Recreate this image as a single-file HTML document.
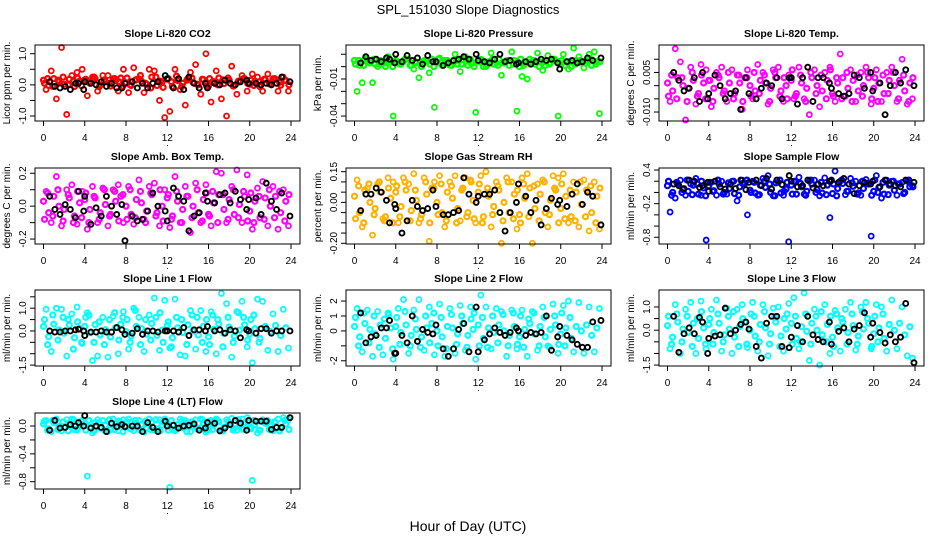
<!DOCTYPE html>
<html><head><meta charset="utf-8"><style>
body{margin:0;background:#fff}
svg{display:block;font-family:"Liberation Sans",sans-serif}
</style></head><body>
<svg id="chart" width="936" height="540" viewBox="0 0 936 540">
<text x="468" y="14" text-anchor="middle" font-size="13">SPL_151030  Slope Diagnostics</text>
<text x="468" y="531" text-anchor="middle" font-size="14">Hour of Day (UTC)</text>
</svg>
<script>
const hoursA=[0,0.5,1,1.5,2,2.5,3,3.5,4,4.5,5,5.5,6,6.5,7,7.5,8,8.5,9,9.5,10,10.5,11,11.5,12,12.5,13,13.5,14,14.5,15,15.5,16,16.5,17,17.5,18,18.5,19,19.5,20,20.5,21,21.5,22,22.5,23,23.5];
const hoursB=[0.25,0.75,1.25,1.75,2.25,2.75,3.25,3.75,4.25,4.75,5.25,5.75,6.25,6.75,7.25,7.75,8.25,8.75,9.25,9.75,10.25,10.75,11.25,11.75,12.25,12.75,13.25,13.75,14.25,14.75,15.25,15.75,16.25,16.75,17.25,17.75,18.25,18.75,19.25,19.75,20.25,20.75,21.25,21.75,22.25,22.75,23.25,23.75];
const hoursC=[0.6,1.1,1.6,2.1,2.6,3.1,3.4,3.9,4.0,4.6,5.1,5.6,6.1,6.6,7.1,7.6,7.9,8.6,9.1,9.6,10.1,10.6,11.1,11.8,12.0,12.6,13.1,13.6,14.1,14.6,15.1,15.7,15.9,16.6,17.1,17.6,18.1,18.6,19.1,19.7,19.9,20.6,21.1,21.6,22.1,22.6,23.1,23.9];
const hoursD=[0.1,0.4,0.9,1.4,1.9,2.4,2.9,3.3,3.7,4.1,4.4,4.9,5.4,5.9,6.4,6.9,7.3,7.7,8.1,8.4,8.9,9.4,9.9,10.4,10.9,11.3,11.6,12.1,12.4,12.9,13.4,13.9,14.4,14.9,15.4,15.8,16.1,16.4,16.9,17.4,17.9,18.4,18.9,19.4,19.8,20.1,20.4,20.9,21.4,21.9,22.4,22.9,23.4,23.8];

const co2Band=[0.15,-0.02,0.2,0.1,0.02,0.18,-0.05,0.12,0.16,0.05,0.2,0,0.1,-0.04,0.14,0.22,0.06,-0.02,0.17,0.12,0.02,0.25,-0.02,0.1,0.18,-0.05,0.14,0.05,0.2,0.08,0,0.17,-0.04,0.1,0.22,0.04,0.15,-0.02,0.1,0.2,0.02,0.12,-0.06,0.17,0.06,0.18,-0.01,0.14];
const co2Band2=[0.05,0.2,-0.05,0.15,0.25,0.0,0.12,0.22,-0.03,0.18,0.08,0.25,-0.06,0.16,0.05,0.2,0.1,-0.04,0.22,0.0,0.15,0.3,0.05,-0.1,0.25,0.12,-0.08,0.2,0.1,0.28,-0.05,0.15,0.22,0.02,0.18,-0.03,0.2,0.1,0.0,0.16,0.22,-0.04,0.12,0.2,0.05,0.15,-0.02,0.1,0.18,0.03,0.2,0.08,0.15,0.0];
const co2Spread=[-0.15,0.45,-0.45,1.2,-0.95,0.3,0.4,0.5,-0.35,0.25,-0.2,0.3,0.3,0.2,-0.2,0.5,-0.25,0.55,0.2,-0.25,0.5,0.45,-0.5,-1.05,-0.85,0.5,-0.15,-0.65,0.4,0.65,-0.3,1.0,-0.55,0.45,-0.45,-1.0,0.6,-0.3,0.3,-0.2,0.35,0.25,-0.2,0.35,0.2,-0.2,0.25,-0.2];
const co2Black=[0.1,-0.05,-0.1,-0.05,-0.15,0.05,0.05,-0.15,0.1,0.05,0,0.1,-0.05,0.05,-0.1,-0.1,0.05,0.1,-0.1,0.05,-0.1,0.05,0.1,0.3,0.2,-0.1,0.2,-0.15,0.25,0.05,-0.1,0.05,-0.1,0.05,0.0,0.15,0.05,0,0.1,0.15,0.05,0.05,0,0.05,0,0.05,0.25,0.1];

const presBand=[0.005,0.001,0.006,0.003,0.002,0.005,0.0,0.004,0.005,0.002,0.006,0.001,0.003,0.0,0.004,0.006,0.003,0.001,0.005,0.004,0.002,0.006,0.001,0.003,0.005,0.0,0.004,0.002,0.006,0.003,0.001,0.005,0.0,0.003,0.006,0.002,0.004,0.001,0.003,0.005,0.002,0.004,0.0,0.005,0.003,0.005,0.001,0.004];
const presBand2=[0.002,0.005,0.001,0.004,0.006,0.002,0.003,0.005,0.0,0.004,0.002,0.006,0.001,0.004,0.003,0.005,0.002,0.0,0.006,0.003,0.004,0.001,0.005,0.002,0.006,0.003,0.0,0.004,0.005,0.002,0.006,0.001,0.003,0.005,0.002,0.004,0.006,0.001,0.003,0.005,0.0,0.004,0.002,0.006,0.003,0.005,0.001,0.004,0.002,0.005,0.003,0.006,0.002,0.004];
const presSpread=[-0.02,-0.013,0.006,-0.013,0.0,0.003,0.008,-0.04,0.003,0.004,0.006,-0.002,-0.009,0.005,-0.005,-0.033,0.007,0.005,0.001,0.01,-0.004,0.008,0.006,-0.037,0.006,0.0,0.011,0.003,-0.007,0.005,0.012,-0.036,-0.008,-0.01,0.005,0.011,-0.003,0.009,0.006,-0.04,0.01,-0.002,0.015,0.008,-0.001,0.01,0.012,-0.038];
const presBlack=[0.003,0.008,0.005,0.006,0.004,0.007,0.006,0.003,0.01,0.004,0.009,0.005,0.007,0.002,0.009,0.004,0.004,0.001,0.003,0.005,0.006,0.008,0.006,0.01,0.005,0.004,0.003,0.006,0.01,0.004,0.005,0.002,0.003,0.004,0.002,0.004,0.006,0.005,0.006,0.003,-0.002,0.004,0.005,0.003,0.004,0.007,0.005,0.007];

const tempBand=[0.001,-0.002,0.003,0.0,-0.001,0.002,-0.003,0.001,0.002,-0.001,0.003,-0.002,0.001,-0.003,0.001,0.003,0.0,-0.002,0.002,0.001,-0.001,0.003,-0.002,0.0,0.002,-0.003,0.001,-0.001,0.003,0.0,-0.002,0.002,-0.003,0.001,0.003,-0.001,0.002,-0.002,0.0,0.003,-0.001,0.001,-0.003,0.002,0.0,0.002,-0.002,0.001];
const tempBand2=[-0.004,0.004,-0.005,0.003,-0.006,0.005,-0.004,0.004,-0.005,0.002,-0.006,0.004,-0.003,0.005,-0.005,0.004,-0.006,0.003,-0.004,0.005,-0.003,0.004,-0.006,0.005,-0.004,0.003,-0.005,0.006,-0.004,0.004,-0.006,0.005,-0.003,0.004,-0.005,0.006,-0.004,0.003,-0.005,0.005,-0.006,0.004,-0.004,0.005,-0.005,0.003,-0.006,0.004,-0.003,0.005,-0.005,0.004,-0.006,0.003];
const tempSpread=[-0.006,0.014,0.009,-0.013,0.007,-0.007,0.008,0.006,-0.008,0.005,0.007,-0.006,0.006,0.004,-0.009,0.006,-0.005,0.008,0.005,-0.007,0.006,0.007,-0.006,0.004,-0.005,0.007,-0.005,-0.011,0.006,-0.008,0.005,0.007,-0.006,0.012,-0.004,0.006,-0.006,0.005,0.007,-0.007,0.006,-0.006,0.005,0.007,-0.006,0.01,-0.007,-0.005];
const tempBlack=[0.005,0.002,-0.002,-0.001,0.003,-0.006,0.005,-0.005,-0.003,0.004,0.0,-0.005,-0.003,-0.002,-0.009,0.003,-0.003,-0.005,-0.001,0.001,0.0,0.003,-0.005,0.003,0.003,-0.007,0.003,0.007,-0.006,0.003,0.003,0.001,-0.001,-0.003,-0.004,-0.003,0.004,0.003,-0.001,0.005,-0.002,0.001,-0.011,0.0,0.005,0.001,0.006,0.0];

const boxBand=[0.03,-0.04,0.06,0.0,-0.02,0.05,-0.06,0.02,0.04,-0.02,0.05,-0.04,0.01,-0.05,0.03,0.06,0.0,-0.05,0.04,0.02,-0.03,0.07,-0.04,0.0,0.05,-0.06,0.03,-0.02,0.06,0.0,-0.04,0.04,-0.05,0.02,0.07,-0.02,0.04,-0.05,0.01,0.06,-0.03,0.03,-0.07,0.05,0.0,0.06,-0.04,0.03];
const boxBand2=[-0.08,0.08,-0.06,0.1,-0.09,0.07,-0.1,0.09,-0.07,0.08,-0.1,0.06,-0.08,0.1,-0.06,0.09,-0.09,0.07,-0.08,0.1,-0.07,0.09,-0.1,0.08,-0.06,0.1,-0.09,0.07,-0.08,0.09,-0.1,0.06,-0.07,0.1,-0.09,0.08,-0.06,0.09,-0.1,0.07,-0.08,0.1,-0.07,0.09,-0.09,0.08,-0.1,0.06,-0.08,0.1,-0.07,0.09,-0.09,0.07];
const boxSpread=[0.09,-0.1,0.18,-0.12,0.1,0.13,-0.11,0.09,-0.14,0.12,-0.1,0.11,-0.12,0.1,0.13,-0.1,0.12,-0.11,0.16,-0.08,0.12,0.14,-0.12,0.1,-0.13,0.18,-0.1,0.12,-0.16,0.14,-0.1,0.13,-0.12,0.21,0.2,-0.1,0.12,0.22,-0.1,0.19,-0.14,0.11,0.15,-0.12,0.12,-0.14,0.1,-0.12];
const boxBlack=[0.06,-0.02,-0.05,0.01,-0.02,-0.07,0.09,-0.03,0.06,-0.11,-0.01,-0.06,0.06,0.0,-0.05,0.01,-0.21,-0.06,-0.09,-0.08,-0.03,0.08,0.0,-0.03,-0.09,0.11,0.06,0.03,-0.15,-0.06,-0.04,0.08,0.03,0.02,0.07,0.08,0.02,0.09,0.04,-0.02,0.04,0.05,-0.05,0.14,0.03,-0.02,0.08,-0.06];

const rhBand=[0.03,-0.05,0.06,0.0,-0.03,0.05,-0.07,0.02,0.05,-0.02,0.06,-0.04,0.01,-0.06,0.04,0.07,0.0,-0.05,0.05,0.02,-0.03,0.07,-0.05,0.01,0.05,-0.07,0.03,-0.02,0.06,0.0,-0.05,0.04,-0.06,0.02,0.07,-0.03,0.04,-0.05,0.01,0.06,-0.03,0.03,-0.07,0.05,-0.01,0.06,-0.05,0.03];
const rhBand2=[-0.08,0.08,-0.1,0.09,-0.06,0.1,-0.09,0.07,-0.1,0.08,-0.07,0.1,-0.09,0.06,-0.08,0.1,-0.1,0.07,-0.06,0.09,-0.09,0.08,-0.1,0.06,-0.07,0.1,-0.08,0.09,-0.1,0.07,-0.06,0.08,-0.09,0.1,-0.08,0.06,-0.1,0.09,-0.07,0.08,-0.09,0.1,-0.06,0.07,-0.1,0.09,-0.08,0.06,-0.09,0.1,-0.07,0.08,-0.1,0.07];
const rhSpread=[0.11,-0.12,0.07,-0.16,0.09,-0.08,0.12,0.1,-0.1,0.12,0.09,0.14,-0.1,0.12,-0.19,0.1,0.13,-0.12,0.1,0.13,-0.09,0.12,0.11,-0.1,0.13,0.15,-0.12,0.1,-0.2,0.12,0.1,-0.13,0.12,0.14,-0.2,0.09,0.11,-0.12,0.13,0.12,0.14,-0.1,0.1,-0.12,0.11,-0.14,0.1,-0.13];
const rhBlack=[-0.04,0.04,0.04,0.07,0.05,0.01,-0.1,-0.01,-0.03,-0.15,-0.09,0.01,-0.02,-0.04,-0.03,0.06,-0.02,-0.06,-0.06,-0.05,-0.04,0.12,0.04,0.0,0.03,0.04,0.04,0.06,-0.05,-0.14,-0.05,0.0,0.09,0.03,-0.05,0.01,-0.11,-0.03,0.02,-0.01,0.01,-0.02,0.04,0.09,-0.01,0.05,0.03,-0.11];

const sampBand=[0.12,0.0,0.15,0.05,0.02,0.13,-0.03,0.08,0.12,0.03,0.15,0.0,0.07,-0.02,0.1,0.16,0.04,-0.01,0.13,0.09,0.0,0.17,-0.01,0.06,0.13,-0.03,0.1,0.02,0.15,0.05,-0.01,0.13,-0.02,0.07,0.16,0.02,0.11,-0.01,0.07,0.15,0.02,0.09,-0.03,0.13,0.04,0.15,0.0,0.1];
const sampBand2=[0.2,-0.05,0.18,0.0,0.22,-0.04,0.15,0.2,-0.06,0.18,0.02,0.22,-0.03,0.17,0.2,-0.05,0.16,0.22,0.0,0.18,-0.04,0.2,0.15,-0.06,0.22,0.02,0.18,-0.03,0.2,0.16,-0.05,0.22,0.0,0.18,-0.04,0.2,0.15,-0.06,0.22,0.02,0.17,-0.03,0.2,0.16,-0.05,0.22,0.0,0.18,-0.04,0.2,0.15,-0.02,0.22,0.1];
const sampSpread=[-0.35,-0.1,0.22,-0.05,0.15,0.25,-0.05,-0.85,0.18,-0.05,0.2,-0.03,0.2,-0.15,0.22,-0.4,0.2,-0.05,0.25,0.3,-0.06,0.18,-0.05,-0.88,0.2,0.27,-0.03,0.2,0.22,-0.06,0.26,-0.45,0.38,0.2,-0.04,0.25,0.2,-0.05,0.23,-0.78,0.3,-0.1,0.22,0.2,-0.05,0.18,0.2,0.12];
const sampBlack=[0.15,0.12,0.07,0.22,0.2,0.09,0.12,0.18,0.02,0.2,0.1,0.06,0.15,0.07,0.22,0.05,0.18,0.22,0.12,0.25,0.06,0.22,0.14,0.3,0.2,0.1,0.12,0.22,0.08,0.15,0.12,0.2,0.22,0.18,0.25,0.15,-0.02,0.12,0.18,0.15,0.2,0.1,0.22,0.15,0.12,0.1,0.22,0.18];

const l1Band=[0.2,-0.25,0.3,0.05,-0.1,0.25,-0.3,0.1,0.2,-0.08,0.28,-0.18,0.06,-0.27,0.14,0.3,-0.03,-0.22,0.2,0.1,-0.14,0.33,-0.2,0.04,0.24,-0.3,0.14,-0.07,0.27,0.0,-0.18,0.2,-0.26,0.07,0.3,-0.1,0.17,-0.23,0.04,0.27,-0.14,0.1,-0.33,0.2,-0.03,0.24,-0.2,0.14];
const l1Band2=[0.5,-0.6,0.7,-0.4,0.6,0.5,-0.8,0.4,-0.5,0.6,0.7,-0.5,0.4,-0.6,0.5,0.8,-0.4,0.6,0.5,-0.5,0.9,-0.6,0.5,-0.4,0.6,0.8,-0.5,0.4,-0.7,0.6,0.5,-0.6,0.7,0.6,-0.5,0.5,-0.6,0.7,0.5,-0.7,0.6,-0.5,0.8,0.6,-0.4,0.5,0.7,-0.5];
const l1Spread=[0.95,-0.9,1.0,0.95,-1.1,0.75,1.05,-0.55,0.8,-1.3,-1.1,0.6,-1.15,0.65,-1.0,0.85,-0.8,1.0,0.6,-0.9,0.7,1.45,-0.85,1.35,-0.75,1.4,-1.05,-1.1,0.9,-0.8,0.9,-0.9,0.85,-1.0,1.65,1.2,-1.15,0.85,1.3,-0.7,-1.4,1.4,1.3,-0.85,0.75,-0.9,0.95,-0.75];
const l1Black=[0.0,-0.05,-0.05,0.0,0.0,0.05,0.08,0.0,-0.2,-0.05,-0.05,0.0,-0.05,-0.05,0.15,0.05,-0.15,-0.1,0.1,-0.15,0.0,0.0,-0.05,0.0,0.0,0.0,-0.05,0.15,-0.2,0.05,0.05,0.0,0.2,0.0,0.05,-0.1,0.05,0.0,-0.3,0.05,0.0,-0.1,0.1,0.1,-0.1,0.0,0.0,0.0];

const l2Band=[0.3,-0.4,0.5,0.1,-0.2,0.4,-0.5,0.2,0.3,-0.1,0.4,-0.3,0.1,-0.4,0.2,0.5,0.0,-0.4,0.3,0.2,-0.2,0.5,-0.3,0.1,0.4,-0.5,0.2,-0.1,0.4,0.0,-0.3,0.3,-0.4,0.1,0.5,-0.2,0.3,-0.4,0.1,0.4,-0.2,0.2,-0.5,0.3,0.0,0.4,-0.3,0.2];
const l2Band2=[0.9,-1.0,1.2,-0.8,1.0,-1.1,0.8,1.1,-1.2,0.9,-0.9,1.3,-1.0,0.8,-1.1,1.0,-0.8,1.2,-1.0,0.9,-1.2,1.1,-0.9,1.0,-1.1,0.8,1.2,-1.0,0.9,-1.1,1.0,-0.8,1.1,-1.0,1.2,-0.9,1.0,-1.1,0.8,1.2,-1.0,0.9,-1.1,1.0,-0.9,1.2,-1.0,0.9];
const l2Spread=[1.5,-1.4,1.4,-1.7,1.3,-1.6,1.2,-1.9,1.5,2.1,-1.5,1.4,2.1,-1.3,1.6,-1.6,1.8,-1.7,1.5,-1.5,1.7,-1.3,1.6,-1.9,2.4,1.6,-1.2,1.5,1.3,-1.7,1.4,-1.2,1.4,-1.7,1.3,-1.3,1.6,-1.0,1.8,-1.5,1.7,2.0,-1.4,1.9,-1.5,1.6,-1.4,1.5];
const l2Black=[1.2,-0.8,-0.4,-0.3,0.2,0.2,0.7,-1.5,-1.5,-0.3,-0.8,1.0,-0.7,0.1,-0.1,-0.2,0.4,-1.2,-1.7,-1.2,0.1,0.5,-1.4,1.6,-1.4,-0.6,-0.2,0.2,-0.1,-0.3,-0.1,0.2,0.0,-0.3,-0.1,-0.2,-0.1,1.0,-1.3,-0.4,0.3,-0.3,-0.6,-0.9,-1.1,-1.1,0.6,0.7];

const l3Band=[0.2,-0.3,0.35,0.05,-0.1,0.3,-0.35,0.1,0.25,-0.1,0.3,-0.2,0.05,-0.3,0.15,0.35,0.0,-0.25,0.25,0.1,-0.15,0.35,-0.25,0.05,0.3,-0.35,0.15,-0.05,0.3,0.0,-0.2,0.25,-0.3,0.1,0.35,-0.1,0.2,-0.25,0.05,0.3,-0.15,0.1,-0.35,0.25,0.0,0.3,-0.2,0.15];
const l3Band2=[0.6,-0.6,0.7,-0.5,0.6,-0.7,0.5,0.8,-0.6,0.5,-0.6,0.7,-0.5,0.6,0.8,-0.7,0.5,-0.6,0.7,0.6,-0.5,0.8,-0.6,0.6,-0.7,0.5,0.7,-0.6,0.6,-0.5,0.7,-0.6,0.6,0.8,-0.5,0.6,-0.7,0.7,0.5,-0.6,0.7,-0.6,0.8,0.5,-0.7,0.6,-0.5,0.7];
const l3Spread=[-0.8,1.1,-1.0,0.9,1.2,-1.0,1.25,-0.8,0.9,1.3,-0.9,0.95,-1.0,0.9,1.1,-0.75,1.2,-0.9,1.1,-1.1,0.95,1.0,-0.9,1.15,1.4,-0.8,1.6,-1.3,0.9,-1.5,1.1,-1.0,0.85,-0.9,0.9,1.2,-0.85,1.0,1.2,-0.8,1.1,1.0,-0.9,1.3,-0.8,1.0,-1.1,-1.2];
const l3Black=[0.6,-0.95,-0.15,0.1,-0.15,0.55,0.35,-1.0,-0.35,-0.25,-0.2,0.95,-0.15,0.0,0.25,0.35,0.05,-0.7,-1.2,0.3,0.6,0.6,-0.7,-0.75,-0.3,0.2,-0.5,0.6,-0.2,-0.4,-0.5,0.35,-0.6,-0.05,0.1,-0.5,0.05,0.2,0.75,-0.3,0.3,-0.1,-0.55,-0.2,-0.5,-0.3,1.15,-1.4];

const l4Band=[0.03,-0.04,0.05,0.0,-0.02,0.04,-0.05,0.02,0.04,-0.02,0.05,-0.03,0.01,-0.05,0.03,0.05,0.0,-0.04,0.04,0.02,-0.03,0.06,-0.04,0.01,0.04,-0.05,0.02,-0.02,0.05,0.0,-0.03,0.04,-0.05,0.01,0.06,-0.02,0.03,-0.04,0.01,0.05,-0.02,0.02,-0.06,0.04,0.0,0.05,-0.03,0.03];
const l4Band2=[0.07,-0.06,0.08,-0.05,0.06,-0.07,0.09,-0.04,0.07,-0.06,0.08,-0.07,0.05,-0.06,0.09,-0.05,0.07,-0.08,0.06,-0.04,0.08,-0.06,0.07,-0.05,0.09,-0.07,0.06,-0.06,0.08,-0.05,0.07,-0.08,0.06,-0.04,0.09,-0.06,0.07,-0.05,0.08,-0.07,0.06,-0.06,0.09,-0.05,0.07,-0.04,0.08,-0.06,0.07,-0.05,0.06,-0.07,0.08,-0.05];
const l4Spread=[0.08,-0.08,0.1,-0.07,0.09,0.1,-0.06,0.08,-0.72,-0.1,0.09,0.08,-0.08,0.1,-0.07,0.09,0.1,-0.07,0.08,-0.09,0.1,-0.06,0.09,0.1,-0.88,-0.07,0.1,0.08,-0.08,0.09,0.1,-0.09,0.08,0.1,-0.07,0.09,0.11,-0.06,0.1,0.12,-0.78,-0.1,0.09,0.08,-0.07,0.1,0.12,0.09];
const l4Black=[-0.06,0.08,-0.03,-0.02,0.02,0.0,0.05,0.0,0.15,-0.03,0.0,-0.02,-0.08,0.04,-0.01,0.02,-0.01,0.0,0.0,-0.08,0.05,-0.02,-0.08,0.07,0.0,0.01,-0.03,0.0,0.01,0.03,-0.06,-0.03,0.05,0.04,-0.07,-0.03,0.02,0.08,0.04,-0.06,0.08,0.07,0.07,0.07,-0.05,-0.02,-0.02,0.12];

const panels=[
 {name:'co2',title:'Slope Li-820 CO2',ylab:'Licor ppm per min.',col:0,row:0,ymin:-1.16,ymax:1.28,color:'#ff0000',band:[co2Band,co2Band2],spread:co2Spread,black:co2Black,ticks:[-1,-0.5,0,0.5,1],labels:['-1.0','','0.0','','1.0']},
 {name:'pressure',title:'Slope Li-820 Pressure',ylab:'kPa per min.',col:1,row:0,ymin:-0.044,ymax:0.0175,color:'#00ff00',band:[presBand,presBand2],spread:presSpread,black:presBlack,ticks:[-0.04,-0.03,-0.02,-0.01,0,0.01],labels:['-0.04','','','-0.01','','']},
 {name:'temp',title:'Slope Li-820 Temp.',ylab:'degrees C per min.',col:2,row:0,ymin:-0.0134,ymax:0.0154,color:'#ff00ff',band:[tempBand,tempBand2],spread:tempSpread,black:tempBlack,ticks:[-0.01,-0.005,0,0.005,0.01],labels:['-0.010','','','0.005','']},
 {name:'box-temp',title:'Slope Amb. Box Temp.',ylab:'degrees C per min.',col:0,row:1,ymin:-0.23,ymax:0.232,color:'#ff00ff',band:[boxBand,boxBand2],spread:boxSpread,black:boxBlack,ticks:[-0.2,-0.1,0,0.1,0.2],labels:['-0.2','','0.0','','0.2']},
 {name:'rh',title:'Slope Gas Stream RH',ylab:'percent per min.',col:1,row:1,ymin:-0.2034,ymax:0.168,color:'#ffb000',band:[rhBand,rhBand2],spread:rhSpread,black:rhBlack,ticks:[-0.2,-0.15,-0.1,-0.05,0,0.05,0.1,0.15],labels:['-0.20','','','','0.00','','','0.15']},
 {name:'sample-flow',title:'Slope Sample Flow',ylab:'ml/min per min.',col:2,row:1,ymin:-0.92,ymax:0.436,color:'#0000ff',band:[sampBand,sampBand2],spread:sampSpread,black:sampBlack,ticks:[-0.8,-0.6,-0.4,-0.2,0,0.2,0.4],labels:['-0.8','','','-0.2','','','0.4']},
 {name:'line1-flow',title:'Slope Line 1 Flow',ylab:'ml/min per min.',col:0,row:2,ymin:-1.54,ymax:1.8,color:'#00ffff',band:[l1Band,l1Band2],spread:l1Spread,black:l1Black,ticks:[-1.5,-1,-0.5,0,0.5,1,1.5],labels:['-1.5','','','0.0','','1.0','']},
 {name:'line2-flow',title:'Slope Line 2 Flow',ylab:'ml/min per min.',col:1,row:2,ymin:-2.35,ymax:2.74,color:'#00ffff',band:[l2Band,l2Band2],spread:l2Spread,black:l2Black,ticks:[-2,-1,0,1,2],labels:['-2','','0','1','2']},
 {name:'line3-flow',title:'Slope Line 3 Flow',ylab:'ml/min per min.',col:2,row:2,ymin:-1.54,ymax:1.73,color:'#00ffff',band:[l3Band,l3Band2],spread:l3Spread,black:l3Black,ticks:[-1.5,-1,-0.5,0,0.5,1],labels:['-1.5','','','0.0','','1.0']},
 {name:'line4-flow',title:'Slope Line 4 (LT) Flow',ylab:'ml/min per min.',col:0,row:3,ymin:-0.905,ymax:0.187,color:'#00ffff',band:[l4Band,l4Band2],spread:l4Spread,black:l4Black,ticks:[-0.8,-0.6,-0.4,-0.2,0],labels:['-0.8','','-0.4','','0.0']}
];
const xTicks=[0,4,8,12,16,20,24];
const colLeft=[35,346,659], rowTop=[45,168,290,413], W=265, H=76;
const NS='http://www.w3.org/2000/svg';
const svg=document.getElementById('chart');
function mk(tag,attrs,parent){const e=document.createElementNS(NS,tag);for(const k in attrs)e.setAttribute(k,attrs[k]);(parent||svg).appendChild(e);return e;}
function dots(parent,hrs,vals,xs,ys,color,sw){
  const n=Math.min(hrs.length,vals.length);
  for(let i=0;i<n;i++){
    const c=mk('circle',{cx:xs(hrs[i]),cy:ys(vals[i]),r:2.5,stroke:color,'stroke-width':sw},parent);
    
    
  }
}
panels.forEach(p=>{
  const L=colLeft[p.col],T=rowTop[p.row];
  const g=mk('g',{});
  
  
  const xs=h=>L+8.5+h*(W-17.5)/24;
  const ys=v=>T+H-(v-p.ymin)/(p.ymax-p.ymin)*H;
  const pg=mk('g',{fill:'none'},g);
  
  
  dots(pg,hoursB,p.spread,xs,ys,p.color,1.8);
  dots(pg,hoursD,p.band[1],xs,ys,p.color,2.2);
  dots(pg,hoursA,p.band[0],xs,ys,p.color,2.2);
  dots(pg,hoursC,p.black,xs,ys,'#000',1.9);
  const box=mk('rect',{x:L,y:T,width:W,height:H,fill:'none',stroke:'#000','stroke-width':1},g);
  
  
  const t=mk('text',{x:L+W/2,y:T-8,'text-anchor':'middle','font-size':10.5,'font-weight':'bold'},g);
  t.textContent=p.title;
  
  
  xTicks.forEach(h=>{
    mk('line',{x1:xs(h),x2:xs(h),y1:T+H,y2:T+H+5,stroke:'#000'},g);
    const tl=mk('text',{x:xs(h),y:T+H+20,'text-anchor':'middle','font-size':10},g);
    tl.textContent=h;
    
    
  });
  const dot=mk('text',{x:L+W/2,y:T+H+25,'text-anchor':'middle','font-size':9},g);
  dot.textContent='.';
  
  
  p.ticks.forEach((v,i)=>{
    mk('line',{x1:L-5,x2:L,y1:ys(v),y2:ys(v),stroke:'#000'},g);
    if(p.labels[i]){
      const yl=mk('text',{x:0,y:0,'text-anchor':'middle','font-size':10,transform:`translate(${L-9},${ys(v)}) rotate(-90)`},g);
      yl.textContent=p.labels[i];
      
      
    }
  });
  const yt=mk('text',{x:0,y:0,'text-anchor':'middle','font-size':10,transform:`translate(${L-25},${T+H/2}) rotate(-90)`},g);
  yt.textContent=p.ylab;
  
  
});
</script>
</body></html>
